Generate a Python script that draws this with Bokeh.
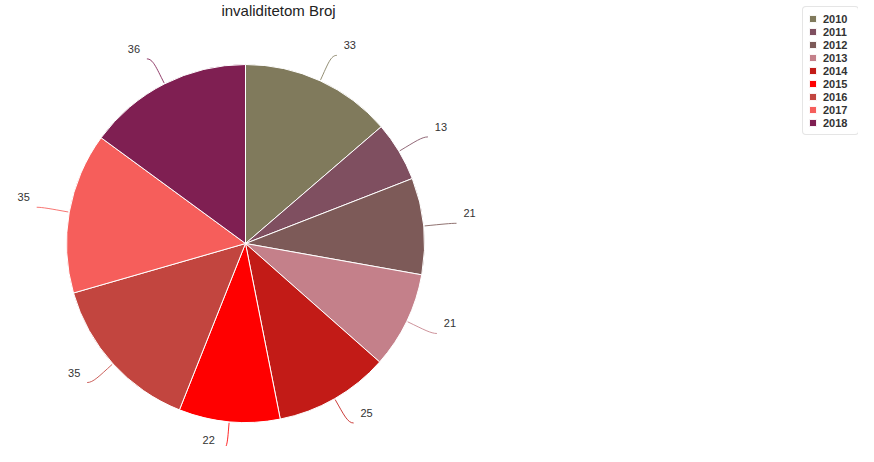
import math
from bokeh.plotting import figure
from bokeh.models import ColumnDataSource, Range1d
from bokeh.core.properties import value
from bokeh.embed import file_html
from bokeh.resources import INLINE

# ---- data ----
years = ["2010", "2011", "2012", "2013", "2014", "2015", "2016", "2017", "2018"]
counts = [33, 13, 21, 21, 25, 22, 35, 35, 36]
colors = ["#807a5c", "#7f4f60", "#7d5a58", "#c4808a", "#c21b17",
          "#ff0000", "#c2453f", "#f65e5b", "#7f1f52"]
title_text = "invaliditetom Broj"

W, H = 858, 446
CX, CY, R = 245, H - 243, 179
R_END = 207

total = sum(counts)
starts, ends, mids = [], [], []
acc = 0
for c in counts:
    a0 = acc / total * 2 * math.pi
    acc += c
    a1 = acc / total * 2 * math.pi
    starts.append(math.pi / 2 - a0)
    ends.append(math.pi / 2 - a1)
    mids.append((a0 + a1) / 2)

def polar(r, th):
    return CX + r * math.sin(th), CY + r * math.cos(th)

src = ColumnDataSource(dict(year=years, count=counts, color=colors,
                            start=starts, end=ends))

p = figure(width=W, height=H, output_backend="svg", toolbar_location=None,
           x_range=Range1d(0, W), y_range=Range1d(0, H), min_border=0)
p.axis.visible = False
p.grid.visible = False
p.outline_line_color = None

p.wedge(x=CX, y=CY, radius=R, start_angle="start", end_angle="end",
        direction="clock", fill_color="color", line_color="white",
        line_width=1, source=src, legend_field="year")

# connectors and labels
x0s, y0s, x1s, y1s, cx0s, cy0s, cx1s, cy1s = [], [], [], [], [], [], [], []
lx, ly, lt = [], [], []
for th, c in zip(mids, counts):
    sgn = 1 if math.sin(th) >= 0 else -1
    sx, sy = polar(R + 1, th)
    ex, ey = polar(R_END, th)
    ex += sgn * 5
    c0x, c0y = polar(R + 19, th)
    c1x, c1y = ex - sgn * 6, ey
    x0s.append(sx); y0s.append(sy); x1s.append(ex); y1s.append(ey)
    cx0s.append(c0x); cy0s.append(c0y); cx1s.append(c1x); cy1s.append(c1y)
    lx.append(ex + sgn * 13); ly.append(ey + 10); lt.append(str(c))

p.bezier(x0=x0s, y0=y0s, x1=x1s, y1=y1s, cx0=cx0s, cy0=cy0s,
         cx1=cx1s, cy1=cy1s, line_color=colors, line_width=1, line_alpha=0.85)
p.text(x=lx, y=ly, text=lt, text_align="center", text_baseline="middle",
       text_font=value("Liberation Sans"), text_font_size="11px",
       text_color="#333333")

p.text(x=[278], y=[H - 10], text=[title_text], text_align="center",
       text_baseline="middle", text_font=value("Liberation Sans"),
       text_font_size="15px", text_color="#222222")

lg = p.legend[0]
lg.location = (802, 311)
lg.margin = 0
lg.padding = 5
lg.spacing = 0
lg.glyph_width = 9
lg.glyph_height = 9
lg.label_height = 13
lg.label_width = 30
lg.label_standoff = 6
lg.label_text_font = "Liberation Sans"
lg.label_text_font_size = "11px"
lg.label_text_font_style = "bold"
lg.label_text_color = "#333333"
lg.border_line_color = "#cccccc"
lg.background_fill_alpha = 1
try:
    lg.border_radius = 4
except Exception:
    pass

open("out.html", "w").write(file_html(p, INLINE))
